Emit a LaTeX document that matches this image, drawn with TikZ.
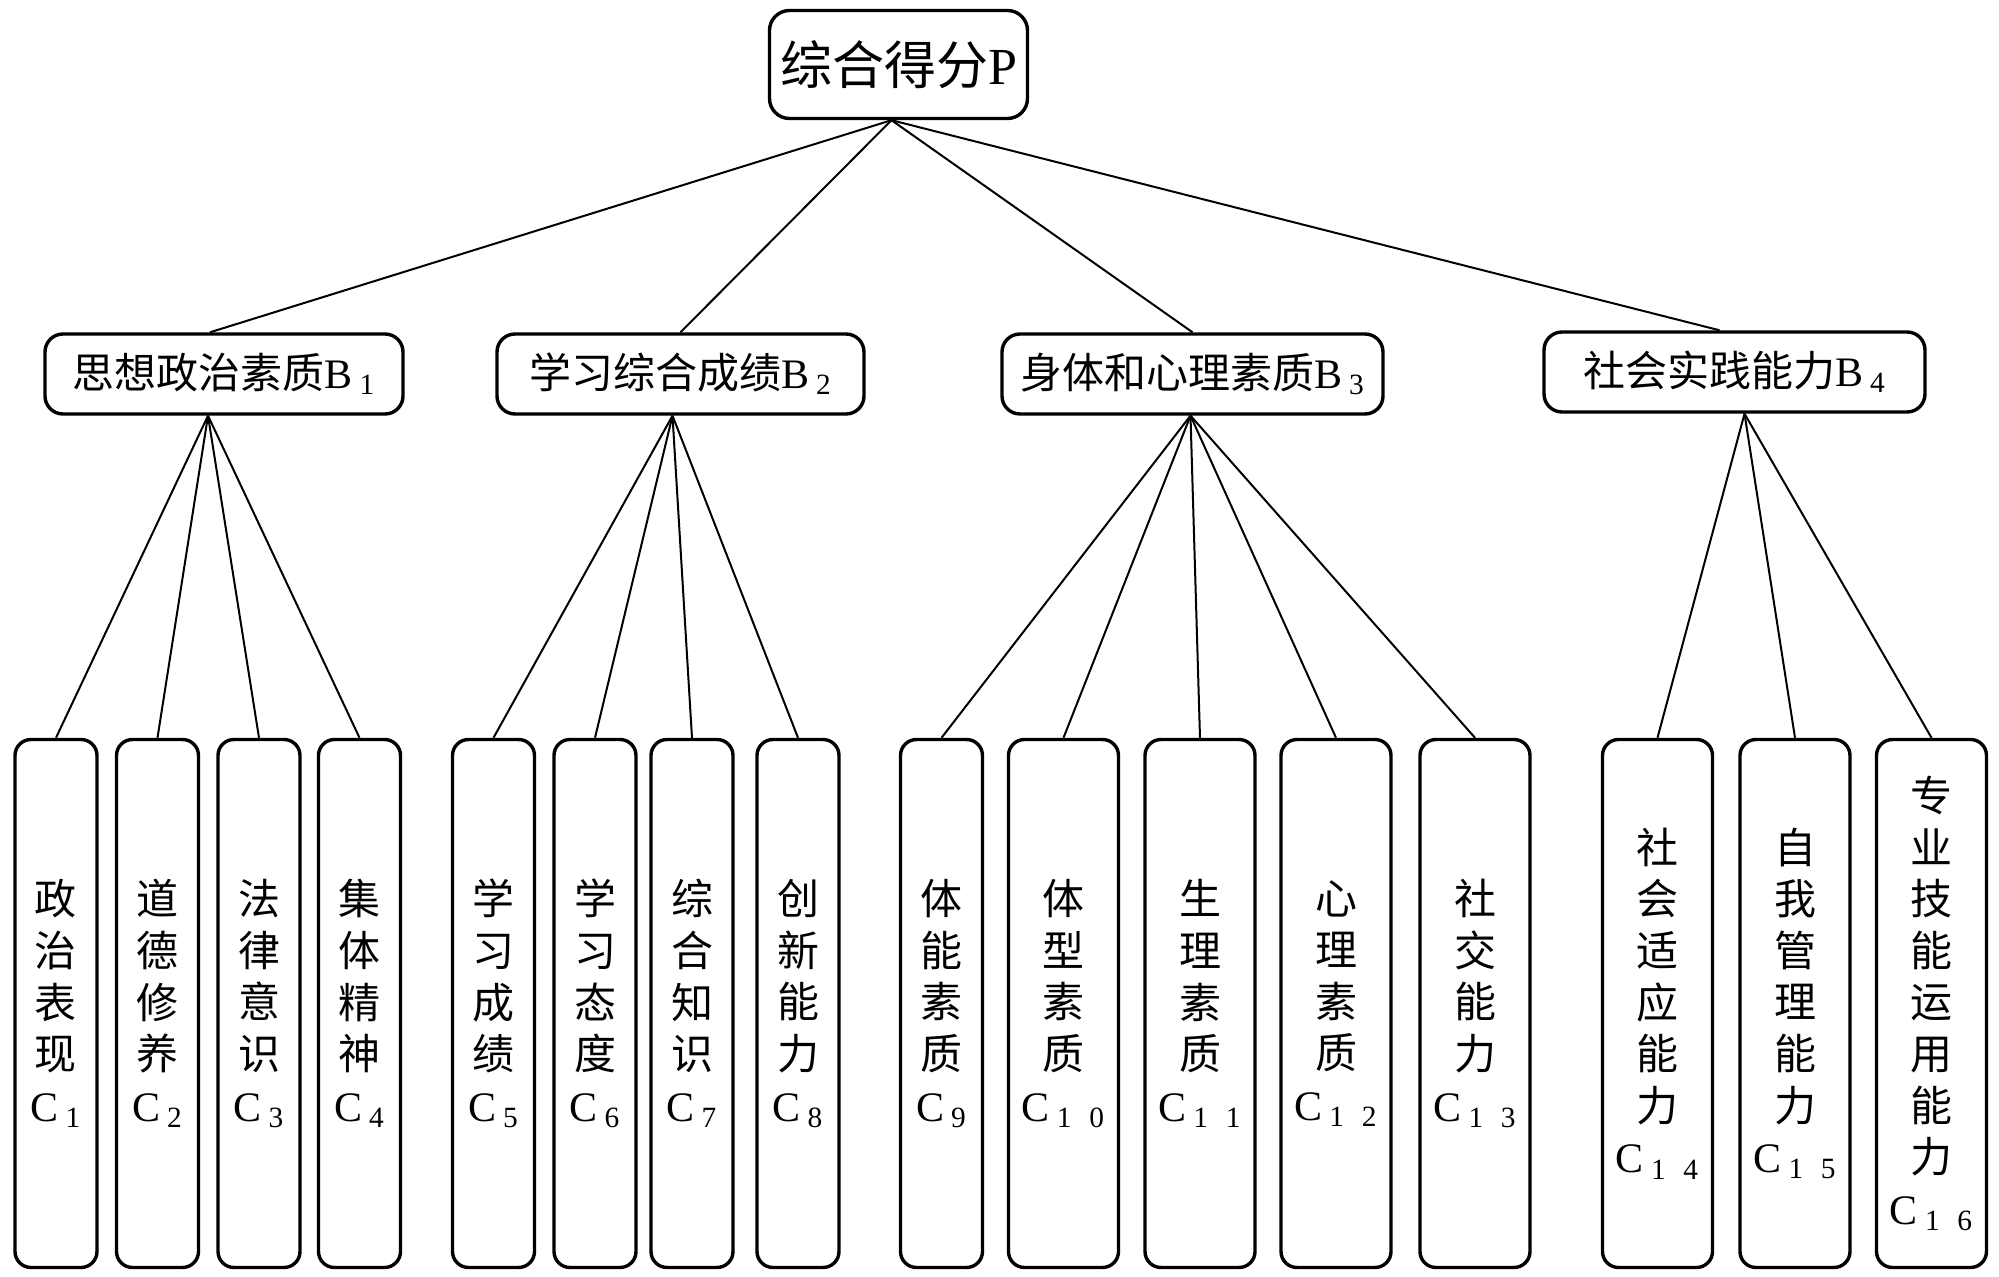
\documentclass[tikz,border=0pt]{standalone}
\usepackage{fontspec}
\setmainfont{Liberation Serif}
\newfontfamily\cjk{Noto Sans CJK SC}
\newcommand{\cid}[1]{{\rmfamily C\,\textsubscript{#1}}}
\newcommand{\dd}{\hspace{0.6em}}
\tikzstyle{topbox}=[draw,rounded corners=10pt,line width=1.7pt,minimum width=129pt,minimum height=54pt,inner sep=0pt,font=\fontsize{26}{30}\selectfont]
\tikzstyle{midbox}=[draw,rounded corners=9pt,line width=1.7pt,minimum height=40pt,inner sep=0pt,font=\fontsize{21}{25}\selectfont]
\tikzstyle{leafbox}=[draw,rounded corners=8pt,line width=1.7pt,minimum width=41pt,minimum height=264pt,inner sep=0pt,align=center,font=\cjk\fontsize{21}{25.8}\selectfont]
\tikzstyle{wideleaf}=[leafbox,minimum width=55pt]
\tikzstyle{link}=[line width=1pt]

\begin{document}
\begin{tikzpicture}[x=0.5pt,y=-0.5pt]
    \useasboundingbox (0,0) rectangle (1999,1277);
    \node[topbox] (P) at (898.5,64.5) {{\cjk 综合得分}P};

    \node[midbox,minimum width=179pt] (B1) at (224,374) {{\cjk 思想政治素质}B\,\textsubscript{1}};
    \node[midbox,minimum width=183.5pt] (B2) at (680.5,374) {{\cjk 学习综合成绩}B\,\textsubscript{2}};
    \node[midbox,minimum width=190.5pt] (B3) at (1192.5,374) {{\cjk 身体和心理素质}B\,\textsubscript{3}};
    \node[midbox,minimum width=190.5pt] (B4) at (1734.5,372) {{\cjk 社会实践能力}B\,\textsubscript{4}};

    \node[leafbox] (C1) at (56,1003.5) {政\\治\\表\\现\\\cid{1}};
    \node[leafbox] (C2) at (157.5,1003.5) {道\\德\\修\\养\\\cid{2}};
    \node[leafbox] (C3) at (259,1003.5) {法\\律\\意\\识\\\cid{3}};
    \node[leafbox] (C4) at (359.5,1003.5) {集\\体\\精\\神\\\cid{4}};
    \node[leafbox] (C5) at (493.5,1003.5) {学\\习\\成\\绩\\\cid{5}};
    \node[leafbox] (C6) at (595,1003.5) {学\\习\\态\\度\\\cid{6}};
    \node[leafbox] (C7) at (692,1003.5) {综\\合\\知\\识\\\cid{7}};
    \node[leafbox] (C8) at (798,1003.5) {创\\新\\能\\力\\\cid{8}};
    \node[leafbox] (C9) at (941.5,1003.5) {体\\能\\素\\质\\\cid{9}};
    \node[wideleaf] (C10) at (1063.5,1003.5) {体\\型\\素\\质\\\cid{1\dd0}};
    \node[wideleaf] (C11) at (1200,1003.5) {生\\理\\素\\质\\\cid{1\dd1}};
    \node[wideleaf] (C12) at (1336,1003.5) {心\\理\\素\\质\\\cid{1\dd2}};
    \node[wideleaf] (C13) at (1475,1003.5) {社\\交\\能\\力\\\cid{1\dd3}};
    \node[wideleaf] (C14) at (1657.5,1003.5) {社\\会\\适\\应\\能\\力\\\cid{1\dd4}};
    \node[wideleaf] (C15) at (1795,1003.5) {自\\我\\管\\理\\能\\力\\\cid{1\dd5}};
    \node[wideleaf] (C16) at (1931.5,1003.5) {专\\业\\技\\能\\运\\用\\能\\力\\\cid{1\dd6}};

    % top level links, end points a little off centre as in the figure
    \coordinate (Pf) at ([xshift=-3.5pt]P.south);
    \foreach \to/\dx in {B1/-7pt,B2/0pt,B3/0pt,B4/-7.5pt}
    \draw[link] (Pf) -- ([xshift=\dx]\to.north);

    \coordinate (B1f) at ([xshift=-8pt]B1.south);
    \coordinate (B2f) at ([xshift=-4pt]B2.south);
    \coordinate (B3f) at ([xshift=-1pt]B3.south);
    \coordinate (B4f) at ([xshift=5pt]B4.south);
    \foreach \from/\to in {B1f/C1,B1f/C2,B1f/C3,B1f/C4,B2f/C5,B2f/C6,B2f/C7,B2f/C8,B3f/C9,B3f/C10,B3f/C11,B3f/C12,B3f/C13,B4f/C14,B4f/C15,B4f/C16}
    \draw[link] (\from) -- (\to.north);
\end{tikzpicture}
\end{document}
